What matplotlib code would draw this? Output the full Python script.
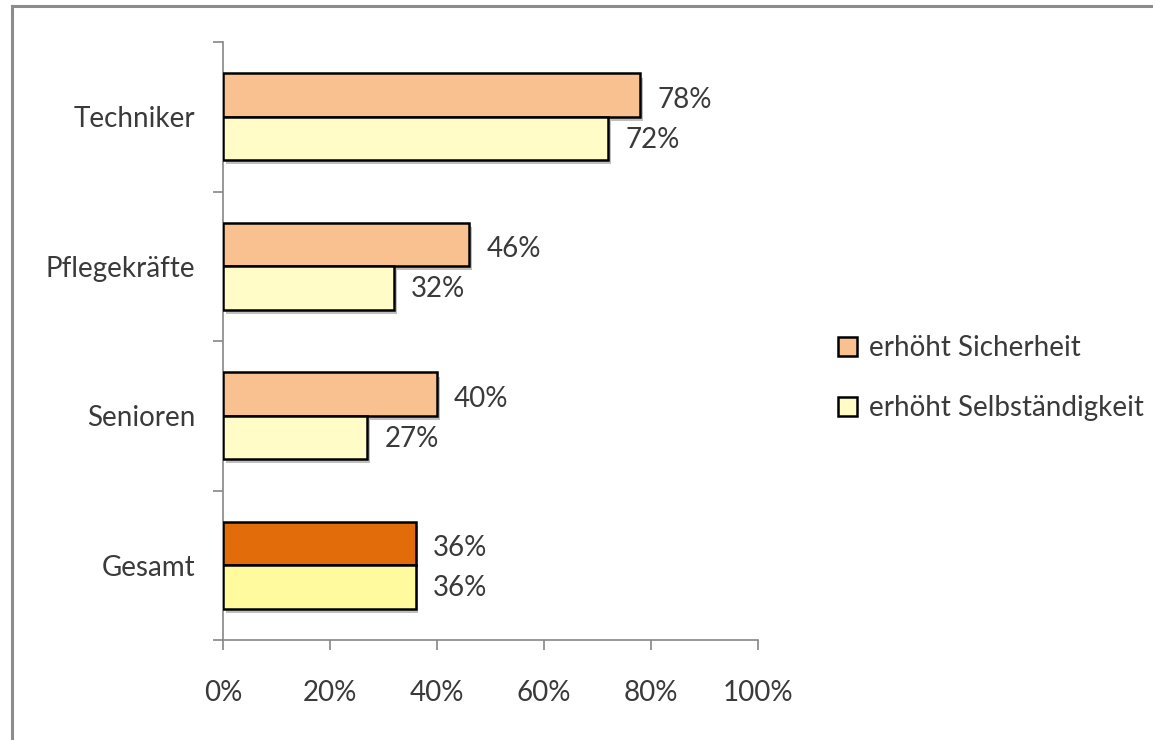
import numpy as np
import matplotlib
matplotlib.use("Agg")
import matplotlib.pyplot as plt
import matplotlib.patheffects as pe
from matplotlib.lines import Line2D

plt.rcParams['font.family'] = ['Lato', 'DejaVu Sans']

# data
categories = ["Techniker", "Pflegekräfte", "Senioren", "Gesamt"]
sicherheit = [78, 46, 40, 36]
selbst = [72, 32, 27, 36]
series_names = ["erhöht Sicherheit", "erhöht Selbständigkeit"]
xticks = [0, 20, 40, 60, 80, 100]

col_sich = ["#F9C090", "#F9C090", "#F9C090", "#E36C0A"]
col_selb = ["#FFFCC8", "#FFFCC8", "#FFFCC8", "#FFFA9E"]
txt = "#3a3a3a"
axcol = "#868686"
fs = 20

fig = plt.figure(figsize=(11.53, 7.40), dpi=100)
ax = fig.add_axes([223/1153, 1-640/740, (758-223)/1153, (640-42)/740])

ypos = np.arange(len(categories))[::-1]
h = 0.29
shadow = [pe.SimplePatchShadow(offset=(2, -3), alpha=0.25, shadow_rgbFace="black"), pe.Normal()]

b1 = ax.barh(ypos + h/2, sicherheit, height=h, color=col_sich, edgecolor="black",
             linewidth=1.8, label=series_names[0], zorder=3)
b2 = ax.barh(ypos - h/2, selbst, height=h, color=col_selb, edgecolor="black",
             linewidth=1.8, label=series_names[1], zorder=3)
for b in list(b1) + list(b2):
    b.set_path_effects(shadow)

for y, v in zip(ypos, sicherheit):
    ax.text(v + 3.2, y + h/2 - 0.03, f"{v}%", va="center", ha="left", fontsize=fs, color=txt)
for y, v in zip(ypos, selbst):
    ax.text(v + 3.2, y - h/2 - 0.01, f"{v}%", va="center", ha="left", fontsize=fs, color=txt)

ax.set_xlim(0, 100)
ax.set_ylim(-0.5, len(categories) - 0.5)
ax.set_xticks(xticks)
ax.set_xticklabels([f"{t}%" for t in xticks], fontsize=fs, color=txt)
ax.set_yticks(ypos)
ax.set_yticklabels(categories, fontsize=fs, color=txt)
ax.set_yticks(np.arange(-0.5, len(categories)), minor=True)
ax.tick_params(axis="y", which="major", length=0, pad=20)
ax.tick_params(axis="y", which="minor", length=7, color=axcol, width=1.2)
ax.tick_params(axis="x", length=7, color=axcol, width=1.2, pad=22)

for s in ["top", "right"]:
    ax.spines[s].set_visible(False)
for s in ["left", "bottom"]:
    ax.spines[s].set_color(axcol)
    ax.spines[s].set_linewidth(1.2)

leg = ax.legend(loc="center left", bbox_to_anchor=(838/1153, 1-378/740),
                bbox_transform=fig.transFigure, frameon=False, borderpad=0, borderaxespad=0,
                fontsize=fs, handlelength=0.7, handleheight=0.7, handletextpad=0.4,
                labelspacing=1.22, labelcolor=txt)
for hnd in leg.legend_handles:
    hnd.set_path_effects([pe.Normal()])

# outer frame (left and top)
fig.add_artist(Line2D([12/1153, 12/1153], [0, 1-6/740], color="#8c8c8c", lw=2.2))
fig.add_artist(Line2D([12/1153, 1], [1-6/740, 1-6/740], color="#8c8c8c", lw=2.2))

fig.savefig("out.png", dpi=100)
